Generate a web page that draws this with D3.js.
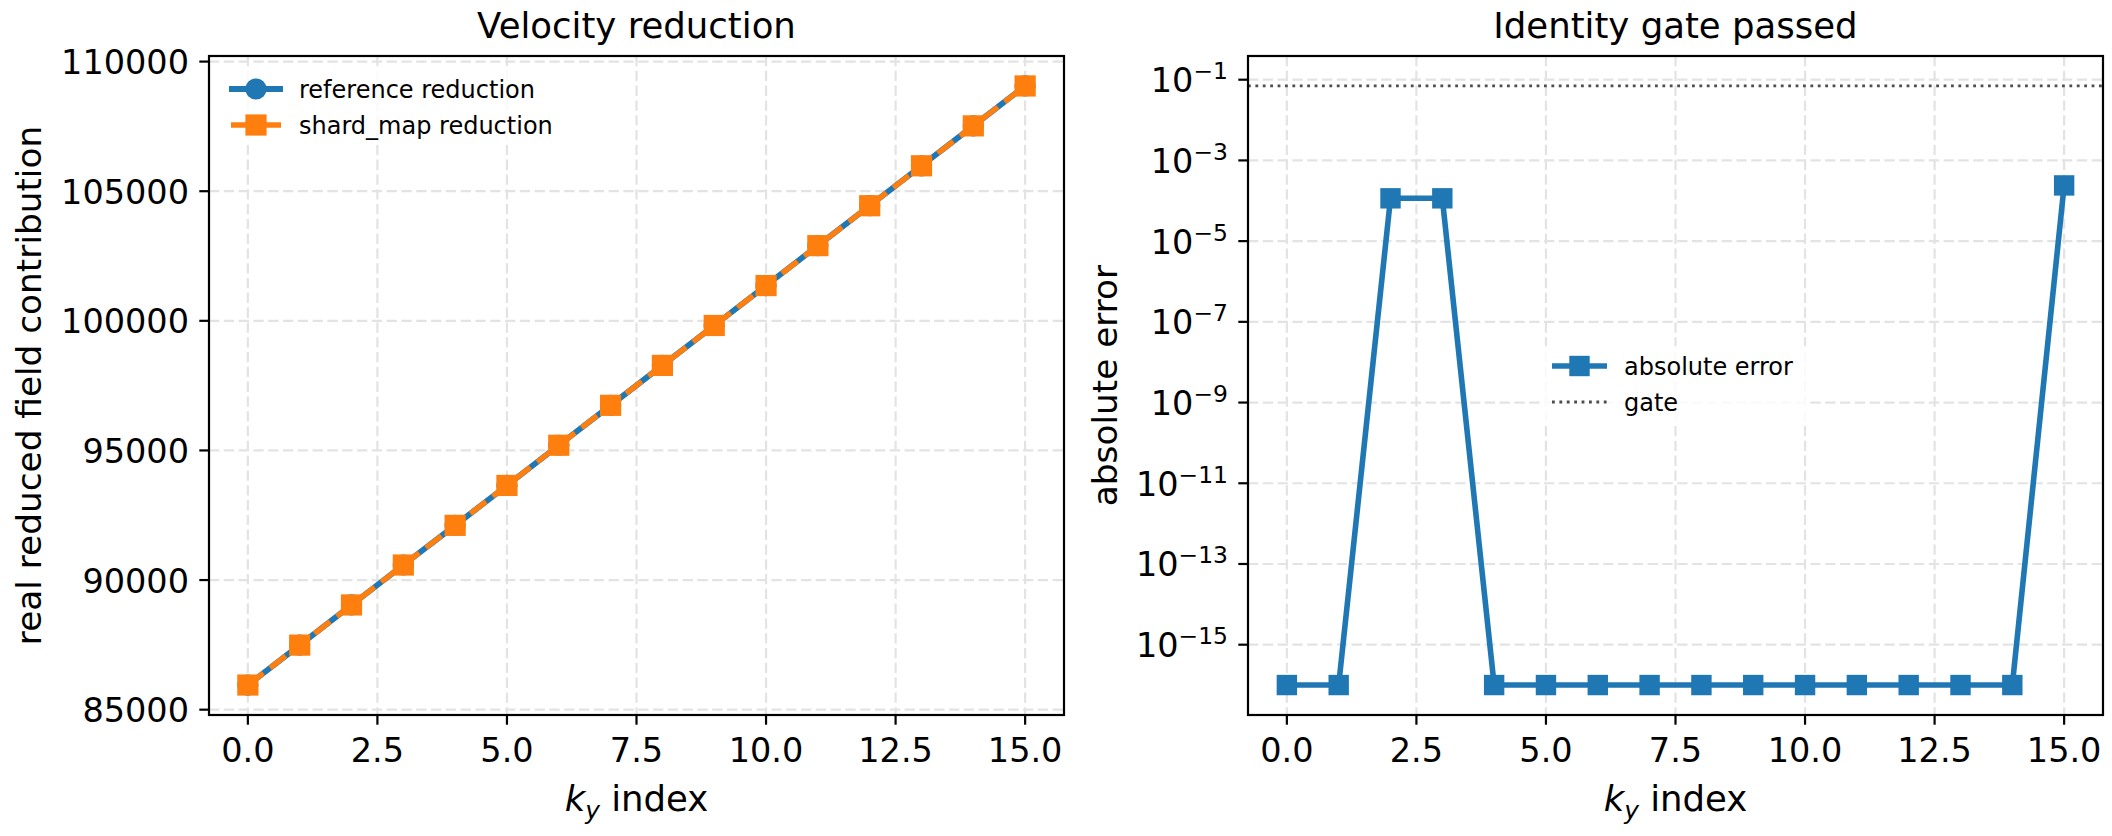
<!DOCTYPE html>
<html>
<head>
<meta charset="utf-8">
<script src="https://cdn.jsdelivr.net/npm/d3@7"></script>
<style>
  body { margin: 0; background: #fff; }
  text { font-family: "DejaVu Sans", sans-serif; fill: #000; }
</style>
</head>
<body>
<div id="grafico"></div>
<script>
// data
const kyIndex = [0, 1, 2, 3, 4, 5, 6, 7, 8, 9, 10, 11, 12, 13, 14, 15]
const referenceReduction = [85950, 87490, 89040, 90580, 92110, 93650, 95200, 96740, 98280, 99820, 101360, 102900, 104440, 105980, 107520, 109060]
const shardMapReduction = [85950, 87490, 89040, 90580, 92110, 93650, 95200, 96740, 98280, 99820, 101360, 102900, 104440, 105980, 107520, 109060]
const absoluteError = [1e-16, 1e-16, 1.15e-4, 1.15e-4, 1e-16, 1e-16, 1e-16, 1e-16, 1e-16, 1e-16, 1e-16, 1e-16, 1e-16, 1e-16, 1e-16, 2.4e-4]
const gate = 0.07

const xTicks = [0, 2.5, 5, 7.5, 10, 12.5, 15]
const leftYTicks = [85000, 90000, 95000, 100000, 105000, 110000]
const rightYExponents = [-15, -13, -11, -9, -7, -5, -3, -1]

const width = 2112
const height = 836
const plotTop = 56
const plotBottom = 715
const panels = [{x0: 209, x1: 1064}, {x0: 1248, x1: 2103}]

const blue = '#1f77b4'
const orange = '#ff7f0e'
const gridColor = '#e3e3e3'
const tickSize = 33.5
const labelSize = 35.5
const yLabelSize = 34.3

const svg = d3.select('#grafico')
              .append('svg')
              .attr('width', width)
              .attr('height', height)

svg.append('rect').attr('width', width).attr('height', height).attr('fill', '#fff')

// matplotlib style 5% margins
const pad = (lo, hi) => [lo - (hi - lo) * 0.05, hi + (hi - lo) * 0.05]

const xDom = pad(d3.min(kyIndex), d3.max(kyIndex))
const xLeft = d3.scaleLinear().domain(xDom).range([panels[0].x0, panels[0].x1])
const xRight = d3.scaleLinear().domain(xDom).range([panels[1].x0, panels[1].x1])

const allRed = referenceReduction.concat(shardMapReduction)
const yLeft = d3.scaleLinear()
                .domain(pad(d3.min(allRed), d3.max(allRed)))
                .range([plotBottom, plotTop])

const logVals = absoluteError.concat([gate]).map(Math.log10)
const logDom = pad(d3.min(logVals), d3.max(logVals))
const yRight = d3.scaleLog()
                 .domain([Math.pow(10, logDom[0]), Math.pow(10, logDom[1])])
                 .range([plotBottom, plotTop])

function drawGrid(g, x, y, yTickVals, p) {
    g.selectAll('.vgrid')
     .data(xTicks)
     .enter()
     .append('line')
     .attr('x1', d => x(d)).attr('x2', d => x(d))
     .attr('y1', plotTop).attr('y2', plotBottom)
     .attr('stroke', gridColor).attr('stroke-width', 2.2)
     .attr('stroke-dasharray', '10.3,4.5')
    g.selectAll('.hgrid')
     .data(yTickVals)
     .enter()
     .append('line')
     .attr('x1', p.x0).attr('x2', p.x1)
     .attr('y1', d => y(d)).attr('y2', d => y(d))
     .attr('stroke', gridColor).attr('stroke-width', 2.2)
     .attr('stroke-dasharray', '10.3,4.5')
}

function drawFrame(g, x, p) {
    g.append('rect')
     .attr('x', p.x0).attr('y', plotTop)
     .attr('width', p.x1 - p.x0).attr('height', plotBottom - plotTop)
     .attr('fill', 'none').attr('stroke', '#000').attr('stroke-width', 2.2)

    g.selectAll('.xtick')
     .data(xTicks)
     .enter()
     .append('line')
     .attr('x1', d => x(d)).attr('x2', d => x(d))
     .attr('y1', plotBottom).attr('y2', plotBottom + 9.7)
     .attr('stroke', '#000').attr('stroke-width', 2.2)

    g.selectAll('.xlab')
     .data(xTicks)
     .enter()
     .append('text')
     .attr('x', d => x(d))
     .attr('y', 762)
     .attr('text-anchor', 'middle')
     .style('font-size', tickSize + 'px')
     .text(d => d.toFixed(1))

    const xl = g.append('text')
                .attr('x', (p.x0 + p.x1) / 2)
                .attr('y', 811)
                .attr('text-anchor', 'middle')
                .style('font-size', labelSize + 'px')
    xl.append('tspan').style('font-style', 'italic').text('k')
    xl.append('tspan').style('font-style', 'italic').style('font-size', (labelSize * 0.7) + 'px').attr('dy', 8).text('y')
    xl.append('tspan').attr('dy', -8).text(' index')
}

function drawYTicks(g, y, vals, p) {
    g.selectAll('.ytick')
     .data(vals)
     .enter()
     .append('line')
     .attr('x1', p.x0 - 9.7).attr('x2', p.x0)
     .attr('y1', d => y(d)).attr('y2', d => y(d))
     .attr('stroke', '#000').attr('stroke-width', 2.2)
}

function title(text, p) {
    svg.append('text')
       .attr('x', (p.x0 + p.x1) / 2)
       .attr('y', 37.5)
       .attr('text-anchor', 'middle')
       .style('font-size', labelSize + 'px')
       .text(text)
}

function yLabel(text, xPos) {
    svg.append('text')
       .attr('transform', `translate(${xPos}, ${(plotTop + plotBottom) / 2}) rotate(-90)`)
       .attr('text-anchor', 'middle')
       .style('font-size', yLabelSize + 'px')
       .text(text)
}

// ---------- left panel ----------
const left = svg.append('g')
drawGrid(left, xLeft, yLeft, leftYTicks, panels[0])

const lineL = d3.line().x((d, i) => xLeft(kyIndex[i])).y(d => yLeft(d))

left.append('path')
    .datum(referenceReduction)
    .attr('d', lineL)
    .attr('fill', 'none').attr('stroke', blue).attr('stroke-width', 5.8)

left.selectAll('.refdot')
    .data(referenceReduction)
    .enter()
    .append('circle')
    .attr('cx', (d, i) => xLeft(kyIndex[i]))
    .attr('cy', d => yLeft(d))
    .attr('r', 10.6)
    .attr('fill', blue)

left.append('path')
    .datum(shardMapReduction)
    .attr('d', lineL)
    .attr('fill', 'none').attr('stroke', orange).attr('stroke-width', 5.3)
    .attr('stroke-dasharray', '19.6,8.5')

left.selectAll('.shardsq')
    .data(shardMapReduction)
    .enter()
    .append('rect')
    .attr('x', (d, i) => xLeft(kyIndex[i]) - 10.6)
    .attr('y', d => yLeft(d) - 10.6)
    .attr('width', 21.2).attr('height', 21.2)
    .attr('fill', orange)

drawFrame(left, xLeft, panels[0])
drawYTicks(left, yLeft, leftYTicks, panels[0])

left.selectAll('.ylab')
    .data(leftYTicks)
    .enter()
    .append('text')
    .attr('x', panels[0].x0 - 20)
    .attr('y', d => yLeft(d) + 12.5)
    .attr('text-anchor', 'end')
    .style('font-size', tickSize + 'px')
    .text(d => d)

title('Velocity reduction', panels[0])
yLabel('real reduced field contribution', 41)

// legend left
const legL = left.append('g')
legL.append('rect')
    .attr('x', 219).attr('y', 67).attr('width', 350).attr('height', 78)
    .attr('fill', '#fff').attr('fill-opacity', 0.8)
legL.append('line')
    .attr('x1', 229).attr('x2', 283).attr('y1', 89).attr('y2', 89)
    .attr('stroke', blue).attr('stroke-width', 5.8)
legL.append('circle').attr('cx', 256).attr('cy', 89).attr('r', 10.6).attr('fill', blue)
legL.append('line')
    .attr('x1', 231).attr('x2', 281).attr('y1', 125).attr('y2', 125)
    .attr('stroke', orange).attr('stroke-width', 5.3)
legL.append('rect').attr('x', 245.4).attr('y', 114.4).attr('width', 21.2).attr('height', 21.2).attr('fill', orange)
legL.append('text').attr('x', 299).attr('y', 97.5).style('font-size', '24px').text('reference reduction')
legL.append('text').attr('x', 299).attr('y', 133.5).style('font-size', '24px').text('shard_map reduction')

// ---------- right panel ----------
const right = svg.append('g')
const rightYTicks = rightYExponents.map(e => Math.pow(10, e))
drawGrid(right, xRight, yRight, rightYTicks, panels[1])

right.append('line')
     .attr('x1', panels[1].x0).attr('x2', panels[1].x1)
     .attr('y1', yRight(gate)).attr('y2', yRight(gate))
     .attr('stroke', '#4d4d4d').attr('stroke-width', 2.8)
     .attr('stroke-dasharray', '2.8,4.6')

const lineR = d3.line().x((d, i) => xRight(kyIndex[i])).y(d => yRight(d))

right.append('path')
     .datum(absoluteError)
     .attr('d', lineR)
     .attr('fill', 'none').attr('stroke', blue).attr('stroke-width', 5.6)

right.selectAll('.errsq')
     .data(absoluteError)
     .enter()
     .append('rect')
     .attr('x', (d, i) => xRight(kyIndex[i]) - 10.2)
     .attr('y', d => yRight(d) - 10.2)
     .attr('width', 20.4).attr('height', 20.4)
     .attr('fill', blue)

drawFrame(right, xRight, panels[1])
drawYTicks(right, yRight, rightYTicks, panels[1])

const ylR = right.selectAll('.ylab')
                 .data(rightYExponents)
                 .enter()
                 .append('text')
                 .attr('x', panels[1].x0 - 20)
                 .attr('y', d => yRight(Math.pow(10, d)) + 12.5)
                 .attr('text-anchor', 'end')
                 .style('font-size', tickSize + 'px')
ylR.append('tspan').text('10')
ylR.append('tspan')
   .attr('dy', -13)
   .style('font-size', (tickSize * 0.7) + 'px')
   .text(d => '\u2212' + Math.abs(d))

title('Identity gate passed', panels[1])
yLabel('absolute error', 1117)

// legend right
const legR = right.append('g')
legR.append('rect')
    .attr('x', 1542).attr('y', 346).attr('width', 266).attr('height', 76)
    .attr('fill', '#fff').attr('fill-opacity', 0.8)
legR.append('line')
    .attr('x1', 1552).attr('x2', 1607).attr('y1', 366).attr('y2', 366)
    .attr('stroke', blue).attr('stroke-width', 5.6)
legR.append('rect').attr('x', 1569.3).attr('y', 355.8).attr('width', 20.4).attr('height', 20.4).attr('fill', blue)
legR.append('line')
    .attr('x1', 1552).attr('x2', 1607).attr('y1', 402).attr('y2', 402)
    .attr('stroke', '#4d4d4d').attr('stroke-width', 2.8)
    .attr('stroke-dasharray', '2.8,4.6')
legR.append('text').attr('x', 1624).attr('y', 374.5).style('font-size', '24px').text('absolute error')
legR.append('text').attr('x', 1624).attr('y', 410.5).style('font-size', '24px').text('gate')
</script>
</body>
</html>
